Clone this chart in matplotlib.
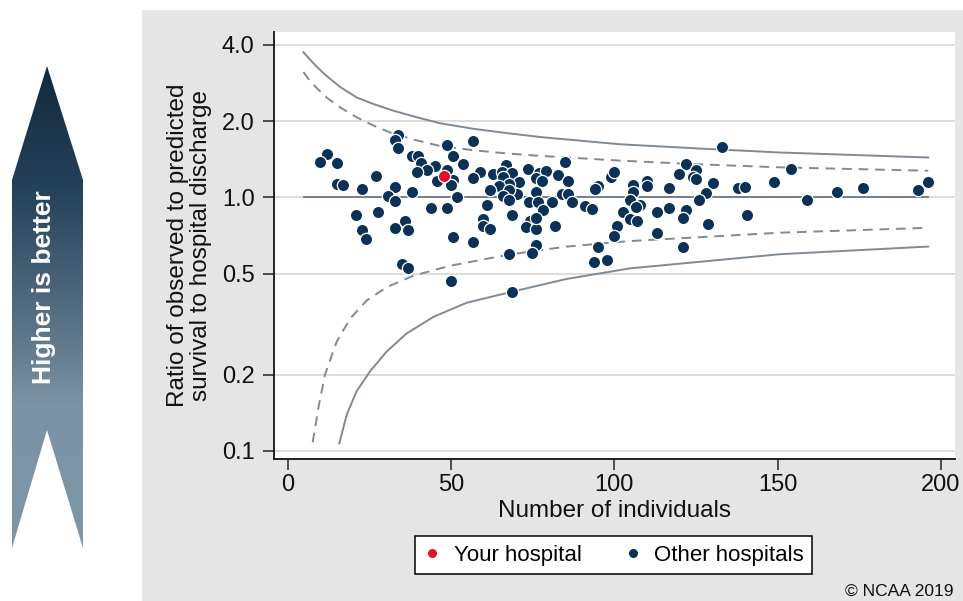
import numpy as np
import matplotlib
matplotlib.use("Agg")
import matplotlib.pyplot as plt
from matplotlib.patches import Rectangle, Polygon
from matplotlib.lines import Line2D
from matplotlib.colors import LinearSegmentedColormap

plt.rcParams['font.family'] = ['Liberation Sans', 'DejaVu Sans']

# ---------------- data ----------------
your_n = [47.9]
your_ratio = [1.216]

other_n = [
    33.9, 32.9, 33.9, 48.9, 11.9, 9.9, 15.0, 38.0, 39.8, 40.7, 50.7, 45.1, 42.6, 39.7, 48.7,
    45.8, 50.7, 50.0, 26.9, 15.0, 16.8, 22.8, 32.9, 38.0, 30.8, 32.9, 51.7, 43.9, 48.9, 20.8,
    27.7, 35.9, 32.9, 36.9, 22.8, 24.0, 50.7, 34.9, 36.9, 49.9,
    56.8, 53.8, 58.9, 56.8, 63.0, 66.8, 65.7, 68.6, 66.0, 70.9, 67.9, 64.8, 61.9, 70.1, 67.9,
    65.8, 67.9, 73.7, 76.9, 79.1, 75.9, 77.8, 84.9, 82.9, 85.7, 76.0, 83.9, 85.9, 73.9, 76.7,
    80.8, 87.0, 78.1, 91.0, 93.1, 94.9, 94.1, 99.0, 99.9, 60.9, 68.8, 59.9, 59.8, 61.9, 74.2,
    73.0, 76.0, 81.8, 75.9, 56.8, 75.9, 74.9, 67.9, 94.9, 100.7, 99.9, 93.8, 97.9, 68.8,
    132.9, 122.0, 125.0, 119.9, 124.2, 125.0, 130.1, 128.1, 126.0, 116.8, 109.9, 109.9, 105.8,
    105.8, 104.8, 107.9, 106.6, 102.8, 104.8, 106.9, 113.0, 116.8, 122.0, 120.9, 128.8, 113.0,
    120.9, 138.0, 140.0, 149.0, 140.7,
    154.0, 159.1, 168.1, 176.1, 192.9, 196.1,
]
other_ratio = [
    1.758, 1.681, 1.574, 1.617, 1.478, 1.375, 1.370, 1.455, 1.459, 1.363, 1.455, 1.334, 1.283, 1.257, 1.283,
    1.166, 1.173, 1.121, 1.219, 1.131, 1.121, 1.081, 1.104, 1.053, 1.018, 0.971, 1.004, 0.911, 0.911, 0.856,
    0.874, 0.806, 0.759, 0.743, 0.743, 0.684, 0.700, 0.546, 0.525, 0.470,
    1.666, 1.351, 1.257, 1.197, 1.234, 1.342, 1.257, 1.245, 1.201, 1.155, 1.131, 1.114, 1.072, 1.034, 1.072,
    1.009, 0.979, 1.291, 1.245, 1.275, 1.197, 1.166, 1.375, 1.227, 1.166, 1.050, 1.034, 1.034, 0.956, 0.964,
    0.964, 0.964, 0.895, 0.928, 0.901, 1.111, 1.081, 1.208, 1.257, 0.936, 0.856, 0.823, 0.775, 0.748, 0.806,
    0.766, 0.748, 0.775, 0.826, 0.669, 0.649, 0.603, 0.597, 0.640, 0.775, 0.704, 0.554, 0.567, 0.425,
    1.583, 1.354, 1.283, 1.234, 1.208, 1.183, 1.138, 1.040, 0.973, 1.088, 1.166, 1.111, 1.121,
    1.055, 0.979, 0.936, 0.917, 0.874, 0.823, 0.806, 0.874, 0.909, 0.889, 0.831, 0.789, 0.726,
    0.640, 1.094, 1.104, 1.149, 0.856,
    1.291, 0.979, 1.055, 1.094, 1.072, 1.155,
]

# funnel control limits
upper998_n = [4.8, 6.8, 8.9, 11.9, 16.0, 21.1, 26.2, 32.3, 39.5, 46.6, 56.8, 67.1, 77.3, 101.7, 126.2, 150.7, 196.1]
upper998_r = [3.746, 3.507, 3.281, 3.017, 2.733, 2.482, 2.339, 2.202, 2.073, 1.964, 1.867, 1.795, 1.732, 1.622, 1.560, 1.505, 1.438]
upper95_n = [4.8, 6.8, 8.9, 11.9, 16.0, 21.1, 26.2, 32.3, 39.5, 46.6, 56.8, 67.1, 77.3, 101.7, 126.2, 150.7, 196.1]
upper95_r = [3.128, 2.885, 2.701, 2.482, 2.269, 2.073, 1.924, 1.785, 1.681, 1.597, 1.536, 1.492, 1.459, 1.398, 1.351, 1.315, 1.275]
lower95_n = [7.65, 9.4, 11.4, 15.0, 19.1, 24.2, 30.3, 38.5, 49.7, 67.9, 85.4, 104.8, 126.2, 150.7, 196.1]
lower95_r = [0.1080, 0.1480, 0.1997, 0.2697, 0.3325, 0.3922, 0.4424, 0.4911, 0.5375, 0.5955, 0.6400, 0.6730, 0.697, 0.726, 0.759]
lower998_n = [15.8, 18.1, 21.1, 25.2, 30.3, 36.4, 44.6, 54.8, 68.9, 85.4, 104.8, 126.2, 150.7, 196.1]
lower998_r = [0.1070, 0.1393, 0.1719, 0.2059, 0.2465, 0.2905, 0.3377, 0.3841, 0.4252, 0.4768, 0.5249, 0.5574, 0.597, 0.640]
target_n = [5, 196]
target_r = [1.0, 1.0]

yticks = [0.1, 0.2, 0.5, 1.0, 2.0, 4.0]
ytick_labels = ["0.1", "0.2", "0.5", "1.0", "2.0", "4.0"]
xticks = [0, 50, 100, 150, 200]

# ---------------- figure ----------------
W, H = 963, 601
fig = plt.figure(figsize=(W / 100, H / 100), dpi=100)
fig.patch.set_facecolor('white')

# grey panel
fig.add_artist(Rectangle((142 / W, 0), (W - 142) / W, (H - 10) / H,
                         transform=fig.transFigure, facecolor='#e5e5e5',
                         edgecolor='none', zorder=-5))

# arrow overlay (pixel coordinates)
ova = fig.add_axes([0, 0, 1, 1], zorder=-3)
ova.set_xlim(0, W)
ova.set_ylim(H, 0)
ova.axis('off')
arrow_pts = [(47, 66), (83, 180), (83, 548), (47, 430), (12, 548), (12, 180)]
poly = Polygon(arrow_pts, closed=True, facecolor='none', edgecolor='none')
ova.add_patch(poly)
cmap = LinearSegmentedColormap.from_list('arr', [(0.0, '#132a3d'), (0.25, '#24405a'),
                                                 (0.55, '#5b7488'), (0.7, '#7c93a5'),
                                                 (1.0, '#7f96a7')])
grad = np.linspace(0, 1, 256).reshape(-1, 1)
im = ova.imshow(grad, cmap=cmap, extent=[12, 83, 548, 66], aspect='auto',
                interpolation='bilinear')
im.set_clip_path(poly)
ova.text(44, 287, "Higher is better", rotation=90, color='white', fontsize=19,
         fontweight='bold', ha='center', va='center')

# main axes
L, R, T, B = 274, 955, 32, 459
ax = fig.add_axes([L / W, 1 - B / H, (R - L) / W, (B - T) / H], zorder=1)
ax.set_facecolor('white')
ax.set_yscale('log')
ax.set_xlim(-4.2, 204.3)
ax.set_ylim(0.0928, 4.5)

for v in yticks:
    ax.axhline(v, color='#dcdcdc', lw=1.4, zorder=0)

line_col = '#7f8a94'
ax.plot(upper998_n, upper998_r, color=line_col, lw=1.4, zorder=2)
ax.plot(lower998_n, lower998_r, color=line_col, lw=1.4, zorder=2)
ax.plot(upper95_n, upper95_r, color=line_col, lw=1.4, ls=(0, (5, 3.5)), zorder=2)
ax.plot(lower95_n, lower95_r, color=line_col, lw=1.4, ls=(0, (5, 3.5)), zorder=2)
ax.plot(target_n, target_r, color='#6b7884', lw=1.3, zorder=2)

navy = '#0b3256'
red = '#e4112d'
ax.scatter(other_n, other_ratio, s=78, color=navy, edgecolors='white', linewidths=0.9, zorder=3)
ax.scatter(your_n, your_ratio, s=78, color=red, edgecolors='white', linewidths=0.9, zorder=4)

ax.set_yticks(yticks)
ax.set_yticklabels(ytick_labels)
ax.yaxis.set_minor_locator(matplotlib.ticker.NullLocator())
ax.set_xticks(xticks)
ax.tick_params(axis='both', which='major', labelsize=17, length=8, width=1.1,
               color='#222222', labelcolor='#111111', direction='out')
ax.tick_params(axis='y', pad=6)
ax.tick_params(axis='x', pad=3)

for s in ['top', 'right']:
    ax.spines[s].set_visible(False)
for s in ['left', 'bottom']:
    ax.spines[s].set_linewidth(1.3)
    ax.spines[s].set_color('#111111')

ax.set_xlabel("Number of individuals", fontsize=17.5, color='#111111')
ax.xaxis.set_label_coords(0.5, -0.096)
ax.set_ylabel("Ratio of observed to predicted\nsurvival to hospital discharge",
              fontsize=17.5, color='#111111', linespacing=1.05)
ax.yaxis.set_label_coords(-0.091, 0.5)

handles = [Line2D([], [], marker='o', ls='none', color=red, markersize=5.5, label='Your hospital'),
           Line2D([], [], marker='o', ls='none', color=navy, markersize=5.5, label='Other hospitals')]
leg = fig.legend(handles=handles, loc='center', bbox_to_anchor=(613.5 / W, 1 - 555 / H),
                 ncol=2, frameon=True, fancybox=False, edgecolor='black', framealpha=1,
                 fontsize=16, handlelength=0.8, handletextpad=0.55, columnspacing=1.9,
                 borderpad=0.4, borderaxespad=0)
leg.get_frame().set_linewidth(1.1)

fig.text(953 / W, 1 - 591 / H, "\u00a9 NCAA 2019", ha='right', va='center',
         fontsize=12.5, color='#111111')

fig.savefig('out.png', dpi=100)
